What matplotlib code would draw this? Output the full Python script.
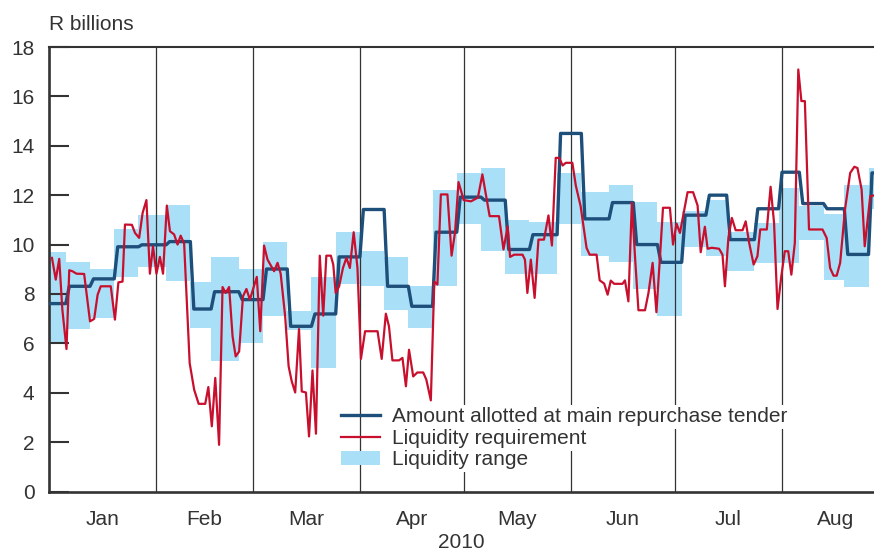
import numpy as np
import matplotlib
matplotlib.use("Agg")
import matplotlib.pyplot as plt

plt.rcParams['font.family'] = ['Liberation Sans', 'DejaVu Sans']

# x positions are days counted from 1 Jan 2010
# weekly tender periods: edges, liquidity range and amount allotted (R billions)
week_edges = [0, 5, 12, 19, 26, 34, 41, 47, 55, 62, 69, 76, 83, 90, 97, 104, 111,
              118, 125, 132, 139, 147, 154, 162, 169, 176, 183, 190, 196, 204, 211,
              217, 224, 230, 237, 239]
range_low = [6.04, 6.58, 7.01, 8.69, 9.10, 8.53, 6.62, 5.30, 6.01, 7.09, 6.55, 5.00,
             8.42, 8.34, 7.34, 6.62, 8.31, 10.84, 9.73, 8.82, 8.82, 10.84, 9.53, 9.28,
             8.22, 7.09, 9.91, 9.53, 8.92, 9.26, 9.26, 10.20, 8.55, 8.28, 11.45]
range_high = [9.69, 9.28, 9.01, 10.61, 11.20, 11.61, 8.50, 9.50, 9.03, 10.09, 7.32, 8.70,
              10.50, 9.72, 9.50, 8.31, 12.20, 12.90, 13.10, 11.00, 10.92, 12.90, 12.12,
              12.42, 11.72, 10.90, 11.35, 11.82, 10.50, 10.88, 12.30, 11.55, 11.22, 12.43,
              13.10]
allotted = [7.61, 8.31, 8.61, 9.91, 9.99, 10.12, 7.39, 8.09, 7.77, 9.01, 6.69, 7.19,
            9.50, 11.42, 8.31, 7.50, 10.50, 11.92, 11.80, 9.80, 10.40, 14.50, 11.04,
            11.70, 10.00, 9.28, 11.19, 12.00, 10.20, 11.45, 12.93, 11.66, 11.45, 9.60,
            12.90]

# daily liquidity requirement
req_day = [1.0, 2.1, 3.1, 4.0, 5.2, 6.0, 6.9, 8.1, 10.3, 12.0, 13.2, 14.2, 15.1, 18.0,
           19.2, 20.2, 21.4, 22.1, 24.1, 25.0, 26.2, 27.2, 28.3, 29.3, 30.2, 31.2, 32.2,
           33.1, 34.2, 35.1, 36.3, 37.3, 38.2, 39.2, 40.8, 42.1, 43.4, 45.3, 46.2, 47.2,
           48.2, 49.3, 50.3, 51.2, 52.2, 53.2, 54.1, 55.1, 56.2, 57.2, 58.2, 59.1, 60.2,
           61.2, 62.3, 63.3, 65.2, 66.2, 67.1, 68.4, 69.4, 70.3, 71.3, 72.4, 73.2, 74.4,
           75.3, 76.3, 77.3, 78.4, 79.4, 80.3, 81.6, 82.3, 83.0, 84.0, 85.1, 86.1, 87.1,
           88.2, 89.3, 90.3, 91.5, 95.1, 96.3, 97.5, 98.4, 99.4, 101.3, 102.3, 103.3,
           104.2, 105.4, 106.6, 108.3, 109.2, 110.5, 111.5, 112.4, 113.4, 115.3, 116.5,
           117.5, 118.5, 120.0, 122.1, 124.1, 125.4, 127.5, 130.2, 131.5, 132.7, 133.4,
           134.6, 137.0, 137.7, 138.4, 139.4, 140.5, 141.6, 143.2, 144.5, 145.5, 146.6,
           147.6, 148.6, 149.5, 151.4, 152.4, 153.8, 155.5, 156.4, 158.4, 159.3, 160.6,
           161.6, 162.5, 163.5, 165.9, 166.6, 167.6, 168.6, 169.5, 170.5, 172.4, 173.4,
           174.6, 175.7, 176.8, 177.6, 179.6, 180.5, 181.5, 182.5, 184.7, 186.3, 187.6,
           188.5, 189.7, 190.5, 191.7, 193.8, 194.8, 195.5, 196.5, 197.5, 198.6, 200.6,
           201.5, 202.5, 203.8, 204.9, 205.7, 207.6, 208.7, 209.7, 210.7, 211.8, 212.8,
           213.8, 214.7, 215.7, 216.7, 217.6, 218.6, 219.8, 223.7, 224.9, 225.9, 226.9,
           227.8, 228.8, 230.2, 231.7, 232.9, 233.8, 235.0, 235.9, 237.5, 238.6]
req_val = [9.46, 8.58, 9.42, 7.37, 5.77, 8.96, 8.92, 8.82, 8.81, 6.89, 6.99, 7.97, 8.31,
           8.31, 6.96, 8.47, 8.50, 10.81, 10.80, 10.47, 10.27, 11.28, 11.80, 8.82, 9.93,
           8.82, 9.50, 8.82, 11.58, 10.54, 10.41, 10.00, 10.36, 10.04, 5.20, 4.12, 3.55,
           3.55, 4.23, 2.64, 4.60, 1.89, 8.28, 8.04, 8.28, 6.28, 5.47, 5.67, 7.90, 8.20,
           7.77, 8.18, 8.69, 6.49, 9.96, 9.39, 8.92, 9.26, 8.82, 7.09, 5.07, 4.46, 4.01,
           6.58, 4.05, 4.01, 2.23, 4.90, 2.34, 9.55, 7.12, 9.55, 9.55, 9.19, 8.04, 8.31,
           9.05, 9.46, 9.05, 10.50, 9.05, 5.37, 6.49, 6.49, 5.37, 7.20, 6.69, 5.31, 5.31,
           5.41, 4.26, 5.74, 4.66, 4.82, 4.82, 4.53, 3.69, 8.50, 8.38, 12.03, 12.03, 9.55,
           10.50, 12.53, 11.80, 11.75, 11.90, 12.84, 11.15, 11.15, 9.80, 10.74, 9.50,
           9.59, 9.59, 9.39, 8.04, 9.39, 7.84, 10.20, 10.20, 11.18, 9.96, 13.51, 13.51,
           13.20, 13.31, 13.31, 12.39, 11.55, 9.87, 9.59, 9.59, 8.55, 8.42, 7.97, 8.54,
           8.41, 8.41, 8.55, 7.70, 11.69, 9.53, 7.34, 7.34, 8.04, 9.26, 7.26, 9.66, 11.49,
           11.49, 10.00, 10.85, 10.47, 12.12, 12.12, 11.58, 9.69, 10.72, 9.83, 9.87, 9.83,
           9.59, 8.31, 10.27, 11.08, 10.58, 10.58, 10.94, 10.07, 9.19, 9.53, 10.61, 10.61,
           12.34, 10.88, 7.39, 8.72, 9.73, 9.73, 8.78, 10.07, 17.09, 15.81, 15.81, 10.61,
           10.61, 10.27, 9.05, 8.74, 8.74, 9.26, 11.42, 12.90, 13.15, 13.10, 12.23, 9.93,
           11.96, 11.99]

months = ['Jan', 'Feb', 'Mar', 'Apr', 'May', 'Jun', 'Jul', 'Aug']
month_starts = [0, 31, 59, 90, 120, 151, 181, 212, 243]

c_range = '#aadff8'
c_blue = '#1d4f7a'
c_red = '#c8102e'
c_text = '#333333'

fig = plt.figure(figsize=(8.74, 5.53), dpi=100)
ax = fig.add_axes([48.5 / 874, 1 - 491.5 / 553, (874 - 48.5) / 874, (491.5 - 47) / 553])

edges = np.array(week_edges, dtype=float)
lo = np.array(range_low)
hi = np.array(range_high)
ax.bar(edges[:-1], hi - lo, bottom=lo, width=np.diff(edges), align='edge',
       color=c_range, linewidth=0, zorder=1, label='Liquidity range')

for d in month_starts[1:-1]:
    ax.axvline(d, color=c_text, lw=0.9, zorder=1.5)

bx, by = [], []
for i, v in enumerate(allotted):
    bx += [edges[i] + (1 if i else 0), edges[i + 1]]
    by += [v, v]
ax.plot(bx, by, color=c_blue, lw=2.4, zorder=3,
        label='Amount allotted at main repurchase tender')
ax.plot(req_day, req_val, color=c_red, lw=1.6, zorder=4,
        label='Liquidity requirement')

ax.set_xlim(0, (874 - 48.5) / 3.46)
ax.set_ylim(0, 18)
ax.set_yticks(np.arange(0, 19, 2))
ax.tick_params(axis='y', direction='in', length=14.4, width=1.5, pad=10,
               labelsize=15, colors=c_text)
mids = [(month_starts[i] + month_starts[i + 1]) / 2 for i in range(len(months))]
ax.set_xticks(mids)
ax.set_xticklabels(months)
ax.tick_params(axis='x', length=0, pad=13, labelsize=15, colors=c_text)
ax.set_xlabel('2010', fontsize=15, color=c_text, labelpad=3.5)

ax.spines['right'].set_visible(False)
ax.spines['top'].set_linewidth(1.5)
ax.spines['left'].set_linewidth(1.9)
ax.spines['bottom'].set_linewidth(1.9)
for s in ['top', 'left', 'bottom']:
    ax.spines[s].set_color(c_text)

fig.text(49 / 874, 1 - 24 / 553, 'R billions', fontsize=15, color=c_text,
         ha='left', va='center')

h, l = ax.get_legend_handles_labels()
leg = ax.legend(h, l, loc='upper left',
                bbox_to_anchor=(0.354, 0.189), frameon=False, fontsize=15,
                handlelength=1.9, handletextpad=0.55, labelspacing=0.12,
                borderpad=0, borderaxespad=0)
leg.set_zorder(5)
for t in leg.get_texts():
    t.set_color(c_text)
    t.set_bbox(dict(facecolor='white', edgecolor='none', pad=2))

fig.savefig('out.png', dpi=100)
